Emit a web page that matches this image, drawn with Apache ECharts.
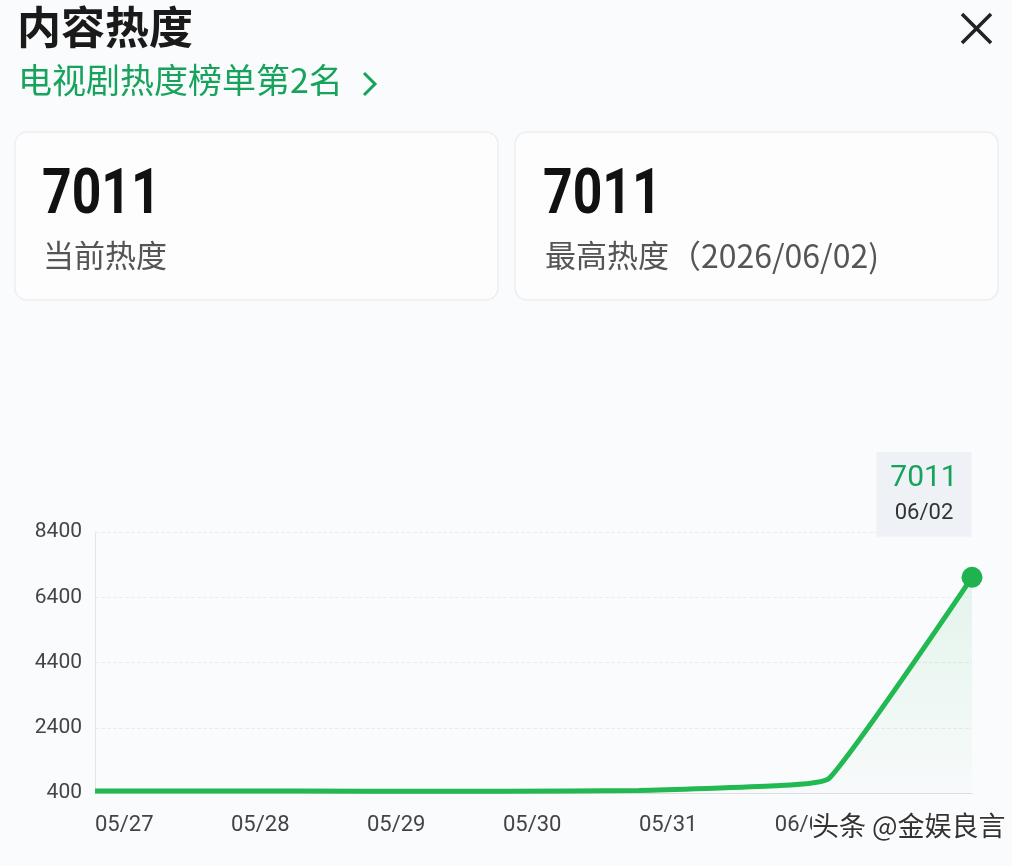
<!DOCTYPE html>
<html>
<head>
<meta charset="utf-8">
<script src="https://cdn.jsdelivr.net/npm/echarts@6/dist/echarts.min.js"></script>
<style>
  html, body { margin: 0; padding: 0; background: #fafbfd; }
  #main { width: 1012px; height: 866px; }
</style>
</head>
<body>
<div id="main"></div>
<script>
// 横轴日期（按天），数据点的横坐标是距 05/27 的天数
var dates = ['05/27', '05/28', '05/29', '05/30', '05/31', '06/01', '06/02'];
var dayOffsets = [0, 1, 2, 3, 4, 5, 5.4, 6.45];
var heatValues = [460, 460, 455, 450, 480, 620, 850, 7011];
var yTicks = [400, 2400, 4400, 6400, 8400];

var currentHeat = 7011;
var peakHeat = 7011;
var peakDate = '2026/06/02';
var lastLabelDate = '06/02';

var CN = '"Noto Sans CJK SC", "Noto Sans", sans-serif';
var NUM = 'Roboto, "Noto Sans", sans-serif';

var chart = echarts.init(document.getElementById('main'));

var seriesData = dayOffsets.map(function (d, i) {
    var item = { value: [d, heatValues[i]] };
    if (i === dayOffsets.length - 1) {
        // 最后一个点：大圆点 + 提示框
        item.symbol = 'circle';
        item.symbolSize = 21;
        item.label = {
            show: true,
            position: 'top',
            distance: 30,
            offset: [-48, 0],
            width: 95,
            align: 'center',
            backgroundColor: '#eef2f7',
            padding: [8, 0, 7, 0],
            formatter: function (p) {
                return '{v|' + p.value[1] + '}\n{d|' + lastLabelDate + '}';
            },
            rich: {
                v: { fontSize: 30, color: '#17a35c', lineHeight: 38, fontFamily: NUM, align: 'center' },
                d: { fontSize: 22, color: '#333', lineHeight: 32, fontFamily: NUM, align: 'center' }
            }
        };
    }
    return item;
});

var option = {
    backgroundColor: '#fafbfd',
    animation: false,
    grid: {
        left: 95,
        right: 40,
        top: 532,
        bottom: 73
    },
    xAxis: {
        type: 'value',
        min: 0,
        max: 6.45,
        interval: 1,
        axisLine: { show: true, lineStyle: { color: '#dcdcdc', width: 1 } },
        axisTick: { show: false },
        splitLine: { show: false },
        axisLabel: {
            align: 'left',
            margin: 21,
            fontSize: 22,
            color: '#444',
            fontFamily: NUM,
            showMaxLabel: false,
            formatter: function (v) {
                return Number.isInteger(v) ? dates[v] : '';
            }
        }
    },
    yAxis: {
        type: 'value',
        min: yTicks[0],
        max: yTicks[yTicks.length - 1],
        interval: 2000,
        axisLine: { show: true, lineStyle: { color: '#e6e6e6', width: 1 } },
        axisTick: { show: false },
        splitLine: { show: true, lineStyle: { color: '#ececec', type: 'dashed' } },
        axisLabel: {
            margin: 13,
            fontSize: 21,
            color: '#444',
            fontFamily: NUM,
            formatter: function (v) { return String(v); }
        }
    },
    series: [{
        type: 'line',
        data: seriesData,
        smooth: 0.16,
        showSymbol: true,
        symbol: 'none',
        clip: false,
        lineStyle: { color: '#22b852', width: 5 },
        itemStyle: { color: '#1fb24e' },
        areaStyle: {
            color: new echarts.graphic.LinearGradient(0, 0, 0, 1, [
                { offset: 0, color: 'rgba(34,184,82,0.15)' },
                { offset: 1, color: 'rgba(34,184,82,0.02)' }
            ])
        }
    }],
    graphic: [
        // 标题
        { type: 'text', left: 17, top: 5, style: { text: '内容热度', fontSize: 44, fontWeight: 'bold', fill: '#1a1a1a', fontFamily: CN } },
        { type: 'text', left: 18, top: 63, style: { text: '电视剧热度榜单第2名', fontSize: 34, fill: '#17a35c', fontFamily: CN } },
        { type: 'polyline', shape: { points: [[364, 73], [375, 84], [364, 95]] }, style: { stroke: '#17a35c', lineWidth: 3, fill: null } },
        // 关闭按钮
        { type: 'line', shape: { x1: 962, y1: 14, x2: 991, y2: 43 }, style: { stroke: '#222', lineWidth: 3.5 } },
        { type: 'line', shape: { x1: 991, y1: 14, x2: 962, y2: 43 }, style: { stroke: '#222', lineWidth: 3.5 } },
        // 卡片
        { type: 'rect', shape: { x: 15, y: 132, width: 483, height: 168, r: 12 }, style: { fill: '#fdfdfe', stroke: '#eceef2', lineWidth: 1.5 } },
        { type: 'rect', shape: { x: 515, y: 132, width: 483, height: 168, r: 12 }, style: { fill: '#fdfdfe', stroke: '#eceef2', lineWidth: 1.5 } },
        { type: 'text', x: 42, y: 166, scaleX: 0.82, style: { text: String(currentHeat), fontSize: 63, fontWeight: 'bold', fill: '#111', fontFamily: NUM } },
        { type: 'text', left: 43, top: 240, style: { text: '当前热度', fontSize: 31, fill: '#555', fontFamily: CN } },
        { type: 'text', x: 543, y: 166, scaleX: 0.82, style: { text: String(peakHeat), fontSize: 63, fontWeight: 'bold', fill: '#111', fontFamily: NUM } },
        { type: 'text', left: 545, top: 240, style: { text: '最高热度', fontSize: 31, fill: '#555', fontFamily: CN } },
        { type: 'text', left: 669, top: 240, style: { text: '（' + peakDate + ')', fontSize: 32, fill: '#555', fontFamily: CN } },
        // 水印
        { type: 'text', left: 811, top: 811, z: 100, style: { text: '头条 @金娱良言', fontSize: 27, fill: '#333', fontFamily: CN, backgroundColor: '#fafbfd', stroke: '#fff', lineWidth: 2, padding: [1, 2, 1, 0] } }
    ]
};

chart.setOption(option);
</script>
</body>
</html>
